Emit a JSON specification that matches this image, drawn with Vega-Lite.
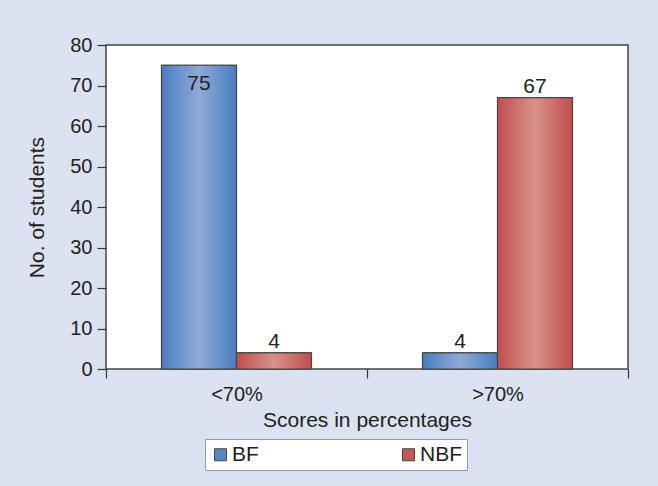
{
  "$schema": "https://vega.github.io/schema/vega-lite/v6.json",
  "autosize": {"type": "none"},
  "width": 522,
  "height": 324,
  "padding": {"left": 106, "top": 45, "right": 30, "bottom": 117},
  "background": "#dbe2f1",
  "data": {
    "values": [
      {"score": "<70%", "group": "BF", "students": 75},
      {"score": "<70%", "group": "NBF", "students": 4},
      {"score": ">70%", "group": "BF", "students": 4},
      {"score": ">70%", "group": "NBF", "students": 67}
    ]
  },
  "encoding": {
    "x": {
      "field": "score", "type": "nominal", "sort": ["<70%", ">70%"],
      "scale": {"paddingInner": 0, "paddingOuter": 0},
      "axis": {
        "title": "Scores in percentages", "labelAngle": 0, "tickBand": "extent",
        "tickSize": 9, "labelPadding": 6, "titlePadding": 5, "domain": false
      }
    },
    "xOffset": {
      "field": "group", "type": "nominal", "sort": ["BF", "NBF"],
      "scale": {"paddingInner": 0, "paddingOuter": 0.74}
    },
    "y": {
      "field": "students", "type": "quantitative",
      "scale": {"domain": [0, 80], "nice": false},
      "axis": {
        "title": "No. of students", "values": [0, 10, 20, 30, 40, 50, 60, 70, 80],
        "tickSize": 9, "labelPadding": 5, "titlePadding": 22, "domain": false, "grid": false
      }
    }
  },
  "layer": [
    {
      "mark": {"type": "bar", "stroke": "#444", "strokeWidth": 1},
      "encoding": {
        "fill": {
          "field": "group", "type": "nominal", "sort": ["BF", "NBF"],
          "scale": {"range": ["#5b86c4", "#c45a55"]},
          "legend": {
            "title": null, "orient": "none", "legendX": 99, "legendY": 394,
            "direction": "horizontal", "columns": 2, "columnPadding": 139,
            "fillColor": "#ffffff", "strokeColor": "#9a9a9a", "padding": 5,
            "symbolType": "square", "symbolSize": 144, "symbolStrokeColor": "#444",
            "symbolStrokeWidth": 1, "labelFontSize": 21, "labelOffset": 1,
            "labelColor": "#222", "labelFont": "Liberation Sans"
          }
        }
      }
    },
    {
      "mark": {"type": "bar", "stroke": "#444", "strokeWidth": 1.2},
      "encoding": {
        "fill": {
          "condition": {
            "test": "datum.group === 'BF'",
            "value": {
              "gradient": "linear", "x1": 0, "x2": 1, "y1": 0, "y2": 0,
              "stops": [
                {"offset": 0, "color": "#4a7dc0"},
                {"offset": 0.5, "color": "#8eaad6"},
                {"offset": 1, "color": "#4a7dc0"}
              ]
            }
          },
          "value": {
            "gradient": "linear", "x1": 0, "x2": 1, "y1": 0, "y2": 0,
            "stops": [
              {"offset": 0, "color": "#bf4f4b"},
              {"offset": 0.5, "color": "#d8928a"},
              {"offset": 1, "color": "#bf4f4b"}
            ]
          }
        }
      }
    },
    {
      "transform": [{"filter": "datum.students >= 75"}],
      "mark": {"type": "text", "baseline": "top", "dy": 8, "fontSize": 21, "font": "Liberation Sans", "color": "#222"},
      "encoding": {"text": {"field": "students", "type": "quantitative"}}
    },
    {
      "transform": [{"filter": "datum.students < 75"}],
      "mark": {"type": "text", "baseline": "alphabetic", "dy": -5, "fontSize": 21, "font": "Liberation Sans", "color": "#222"},
      "encoding": {"text": {"field": "students", "type": "quantitative"}}
    }
  ],
  "config": {
    "view": {"stroke": "#444", "strokeWidth": 1.5, "fill": "#ffffff"},
    "axis": {
      "labelFont": "Liberation Sans", "titleFont": "Liberation Sans",
      "labelFontSize": 20, "titleFontSize": 21, "titleFontWeight": "normal",
      "labelColor": "#222", "titleColor": "#222", "tickColor": "#333", "tickWidth": 1.2
    }
  }
}
